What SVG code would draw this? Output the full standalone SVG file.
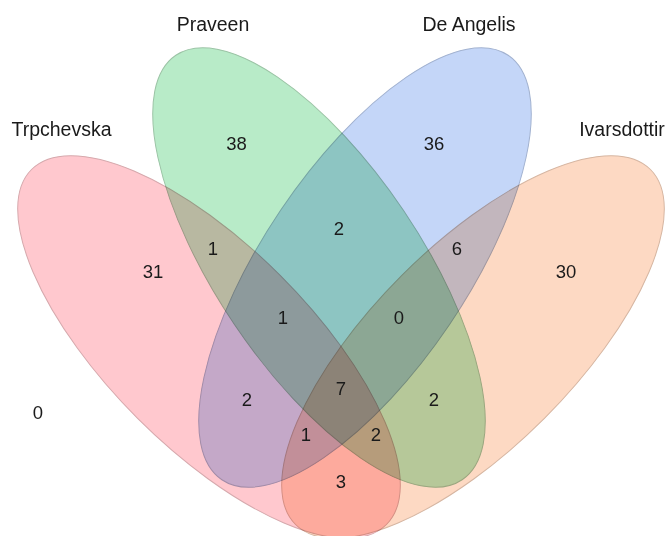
<svg xmlns="http://www.w3.org/2000/svg" width="668" height="536" viewBox="0 0 668 536">
<style>
.set{mix-blend-mode:multiply;stroke-width:1}
.lbl{font-family:"Liberation Sans",Arial,sans-serif;font-size:19.5px;fill:#1a1a1a;text-anchor:middle}
.num{font-family:"Liberation Sans",Arial,sans-serif;font-size:18.5px;fill:#1a1a1a;text-anchor:middle}
</style>
<rect width="668" height="536" fill="#ffffff"/>
<g style="isolation:isolate">
<g id="trpchevska">
<ellipse class="set" cx="209" cy="347" rx="251" ry="101" transform="rotate(45 209 347)" fill="#FFC8CE" stroke="#d6a9ad"/>
</g>
<g id="praveen">
<ellipse class="set" cx="319" cy="267.5" rx="256" ry="102" transform="rotate(56 319 267.5)" fill="#B8EBC8" stroke="#9cc4a6"/>
</g>
<g id="deangelis">
<ellipse class="set" cx="365" cy="267.5" rx="256" ry="102" transform="rotate(-56 365 267.5)" fill="#C4D6F8" stroke="#a2b2d0"/>
</g>
<g id="ivarsdottir">
<ellipse class="set" cx="473" cy="347" rx="251" ry="101" transform="rotate(-45 473 347)" fill="#FDD9C3" stroke="#d6b6a2"/>
</g>
</g>
<g id="labels">
<text class="lbl" x="61.5" y="135.5">Trpchevska</text>
<text class="lbl" x="213" y="30.5">Praveen</text>
<text class="lbl" x="469" y="30.5">De Angelis</text>
<text class="lbl" x="622" y="135.5">Ivarsdottir</text>
</g>
<g id="counts">
<text class="num" x="236.5" y="150">38</text>
<text class="num" x="434" y="150">36</text>
<text class="num" x="153" y="278">31</text>
<text class="num" x="566" y="278">30</text>
<text class="num" x="213" y="255">1</text>
<text class="num" x="339" y="235">2</text>
<text class="num" x="457" y="255">6</text>
<text class="num" x="283" y="324">1</text>
<text class="num" x="399" y="324">0</text>
<text class="num" x="247" y="406">2</text>
<text class="num" x="434" y="406">2</text>
<text class="num" x="341" y="395">7</text>
<text class="num" x="306" y="441">1</text>
<text class="num" x="376" y="441">2</text>
<text class="num" x="341" y="488">3</text>
<text class="num" x="38" y="419">0</text>
</g>
<g id="connectors"/>
</svg>
